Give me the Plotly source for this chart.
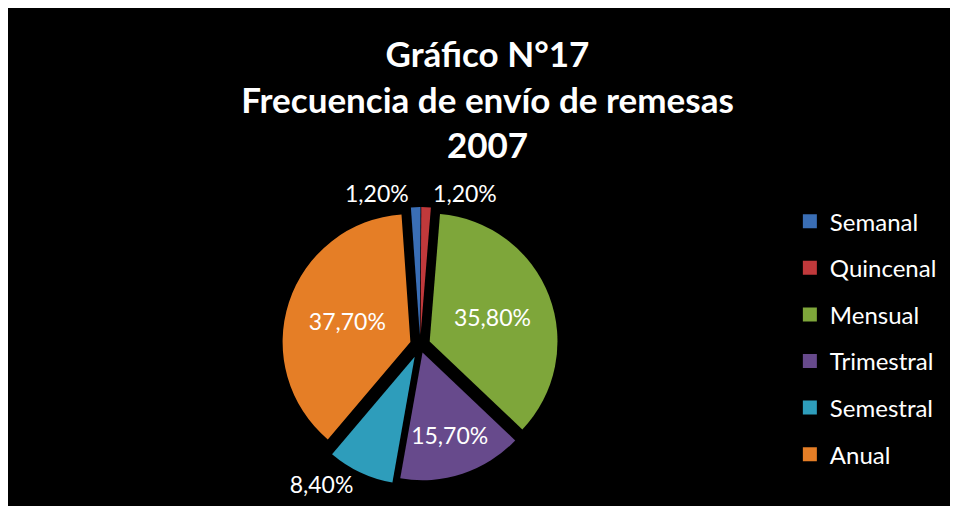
import plotly.graph_objects as go

categories = ["Semanal", "Quincenal", "Mensual", "Trimestral", "Semestral", "Anual"]
values = [1.2, 1.2, 35.8, 15.7, 8.4, 37.7]
colors = ["#3A6EB5", "#C0393B", "#7EA63A", "#674A8C", "#2E9DBB", "#E57E26"]
text_positions = ["outside", "outside", "inside", "inside", "outside", "inside"]
pulls = [0.08, 0.08, 0.08, 0.06, 0.1, 0.08]

title_text = "Gráfico N°17<br>Frecuencia de envío de remesas<br>2007"

FONT = "Lato"

fig = go.Figure()

fig.add_trace(go.Pie(
    labels=categories,
    values=values,
    sort=False,
    direction="clockwise",
    rotation=-4,
    pull=pulls,
    marker=dict(colors=colors, line=dict(color="#000000", width=0)),
    texttemplate="%{value:.2f}%",
    textposition=text_positions,
    insidetextorientation="horizontal",
    textfont=dict(family=FONT, size=23, color="white"),
    showlegend=False,
    hoverinfo="label+value",
    automargin=False,
    domain=dict(x=[0.288, 0.587], y=[0.041, 0.609]),
))

for name, col in zip(categories, colors):
    fig.add_trace(go.Scatter(
        x=[None], y=[None], mode="markers", name=name,
        legendgroup=name,
        marker=dict(symbol="square", size=14, color=col),
    ))

fig.update_layout(
    width=942, height=498,
    separators=",.",
    paper_bgcolor="black",
    plot_bgcolor="black",
    margin=dict(l=0, r=0, t=3, b=0),
    xaxis=dict(visible=False),
    yaxis=dict(visible=False),
    title=dict(text=title_text, x=0.509, xanchor="center", xref="container",
               y=0.8815, yanchor="middle", yref="container",
               font=dict(family=FONT, size=35, color="white", weight="bold")),
    legend=dict(x=0.830, y=0.620, xanchor="left", yanchor="top",
                font=dict(family=FONT, size=24, color="white"),
                tracegroupgap=12.4, bgcolor="rgba(0,0,0,0)"),
)

fig.write_html("out.html")
